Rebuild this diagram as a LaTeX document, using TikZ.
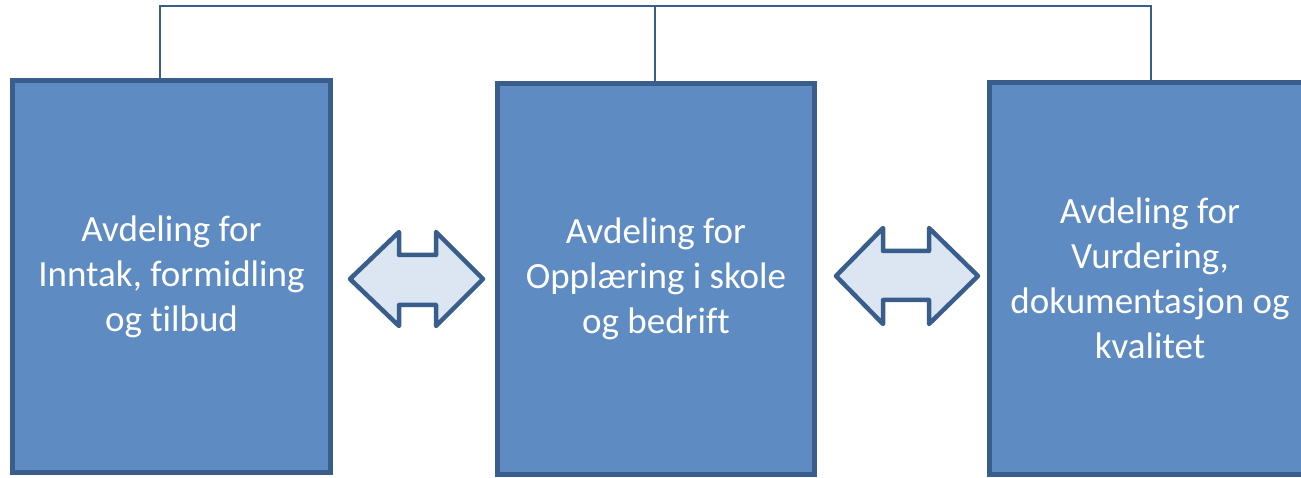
\documentclass[tikz,border=0pt]{standalone}
\usepackage{fontspec}
\setmainfont[Ligatures=NoCommon]{Carlito}
\definecolor{boxfill}{HTML}{5E8BC2}
\definecolor{boxline}{HTML}{3A5E8C}
\definecolor{arrfill}{HTML}{DCE6F2}
\begin{document}
\begin{tikzpicture}[x=1pt,y=-1pt]
      \tikzstyle{avd}=[rectangle, fill=boxfill, draw=boxline, line width=5pt, text=white, align=center, inner sep=0pt,
        font=\fontsize{37}{45}\selectfont]
      \tikzstyle{link}=[draw=boxline, line width=2pt]
      \tikzstyle{dblarrow}=[fill=arrfill, draw=boxline, line width=4.5pt, line join=round]
      \useasboundingbox (0,0) rectangle (1301,478);
      \node [avd, minimum width=318pt, minimum height=392pt] (inntak) at (171.5,276.5) {Avdeling for\\Inntak, formidling\\og tilbud};
      \node [avd, minimum width=317pt, minimum height=391pt] (opplaering) at (656,279) {Avdeling for\\Opplæring i skole\\og bedrift};
      \node [avd, minimum width=321pt, minimum height=392pt] (vurdering) at (1150,278.5) {Avdeling for\\Vurdering,\\dokumentasjon og\\kvalitet};
      \coordinate (top) at (655,6);
      \draw [link] ([xshift=-11.5pt]inntak.north) |- (top) -| ([xshift=1pt]vurdering.north);
      \draw [link] (opplaering.north -| top) -- (top);
      \draw [dblarrow] (350,279) -- (399,232) -- (399,255) -- (436,255) -- (436,232) -- (483,279)
        -- (436,326) -- (436,305) -- (399,305) -- (399,326) -- cycle;
      \draw [dblarrow] (836,276) -- (883,228) -- (883,251) -- (929,251) -- (929,228) -- (978,276)
        -- (929,324) -- (929,300) -- (883,300) -- (883,324) -- cycle;
\end{tikzpicture}
\end{document}
